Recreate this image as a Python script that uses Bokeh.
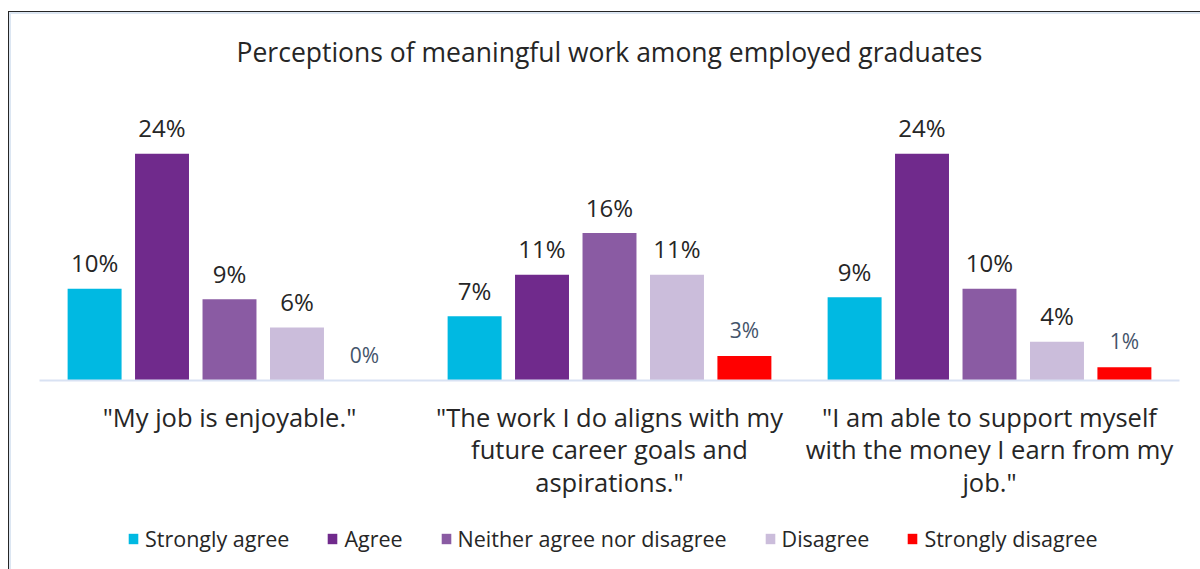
from bokeh.plotting import figure
from bokeh.models import FactorRange, Range1d, ColumnDataSource, Legend, LegendItem
from bokeh.layouts import column
from bokeh.transform import dodge
from bokeh.core.properties import value
from bokeh.embed import file_html
from bokeh.resources import INLINE

FONT = "Open Sans"

title_text = "Perceptions of meaningful work among employed graduates"
categories = [
    '"My job is enjoyable."',
    '"The work I do aligns with my\nfuture career goals and\naspirations."',
    '"I am able to support myself\nwith the money I earn from my\njob."',
]
series = ["Strongly agree", "Agree", "Neither agree nor disagree", "Disagree", "Strongly disagree"]
strongly_agree = [9.7, 6.8, 8.8]
agree = [24.0, 11.2, 24.0]
neither = [8.6, 15.6, 9.7]
disagree = [5.6, 11.2, 4.1]
strongly_disagree = [0.0, 2.6, 1.4]
colors = ["#00B9E2", "#702A8C", "#8A5BA3", "#CBBDDB", "#FF0000"]

values = [strongly_agree, agree, neither, disagree, strongly_disagree]

data = {"cat": categories}
for i, vals in enumerate(values):
    data[f"s{i}"] = vals
    data[f"l{i}"] = [f"{round(v)}%" for v in vals]
src = ColumnDataSource(data)

xr = FactorRange(*categories, range_padding=0)
p = figure(width=1191, height=500, x_range=xr,
           y_range=Range1d(0, 30.9), output_backend="svg", toolbar_location=None,
           min_border_left=30, min_border_right=21, min_border_top=76, min_border_bottom=132)

p.title.text = title_text
p.title.align = "center"
p.title.text_font = FONT
p.title.text_font_size = "26.5px"
p.title.text_font_style = "normal"
p.title.text_color = "#262626"
p.title.standoff = 37

p.yaxis.visible = False
p.xgrid.grid_line_color = None
p.ygrid.grid_line_color = None
p.outline_line_color = None
p.background_fill_color = None
p.border_fill_color = None

ax = p.xaxis[0]
ax.axis_line_color = "#D9E2F3"
ax.axis_line_width = 2
ax.major_tick_line_color = None
ax.minor_tick_line_color = None
ax.major_tick_out = 0
ax.major_label_standoff = 19
ax.major_label_text_font = FONT
ax.major_label_text_font_size = "25.5px"
ax.major_label_text_color = "#262626"
ax.major_label_text_line_height = 0.97

offsets = [-0.355, -0.1776, 0.0, 0.1776, 0.355]
for i, col in enumerate(colors):
    p.vbar(x=dodge("cat", offsets[i], range=xr), top=f"s{i}", width=0.142,
           source=src, fill_color=col, line_color=None)
    small = (i == 4)
    p.text(x=dodge("cat", offsets[i], range=xr), y=f"s{i}", text=f"l{i}", source=src,
           text_align="center", text_baseline="alphabetic", y_offset=-26,
           text_font=value(FONT), text_font_size="21px" if small else "24px",
           text_color="#44546A" if small else "#262626")

# legend strip: same series, drawn outside its visible range so only the legend shows
lg = figure(width=1191, height=57, x_range=xr, y_range=Range1d(1000, 1001),
            output_backend="svg", toolbar_location=None, min_border=0)
lg.axis.visible = False
lg.grid.grid_line_color = None
lg.outline_line_color = None
lg.background_fill_color = None
lg.border_fill_color = None
items = []
for i, (name, col) in enumerate(zip(series, colors)):
    r = lg.vbar(x=dodge("cat", offsets[i], range=xr), top=f"s{i}", width=0.142,
                source=src, fill_color=col, line_color=None)
    items.append(LegendItem(label=name, renderers=[r]))
legend = Legend(items=items, orientation="horizontal", location=(88, 16), padding=0,
                margin=0, spacing=37, label_standoff=6, glyph_width=12, glyph_height=13,
                label_height=20, label_text_font=FONT, label_text_font_size="21.5px",
                label_text_color="#262626", border_line_color=None, background_fill_alpha=0)
lg.add_layout(legend, "center")

layout = column(p, lg, spacing=0,
                styles={"border-left": "1px solid #262626", "border-top": "1px solid #262626",
                        "margin-top": "11px", "margin-left": "8px",
                        "box-shadow": "inset 2px 2px 0 #DCE6F2", "background": "white"})

open("out.html", "w").write(file_html(layout, INLINE))
